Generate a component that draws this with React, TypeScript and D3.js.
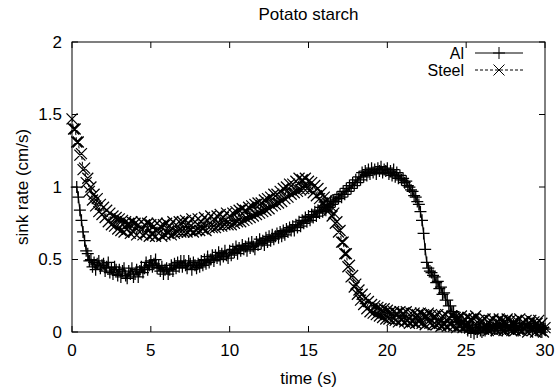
import * as d3 from "d3"

const title = "Potato starch"
const xLabel = "time (s)"
const yLabel = "sink rate (cm/s)"
const xTicks = [0, 5, 10, 15, 20, 25, 30]
const yTicks = [0, 0.5, 1, 1.5, 2]
const seriesNames = ["Al", "Steel"]

// sampling of the recorded runs (s)
const frameStep = 0.1
const alStart = 0.3
const steelStart = 0

// Al sphere, sink rate per frame from t = 0.3 s
const alRate = [
  1.0, 0.93, 0.84, 0.77, 0.69, 0.63, 0.56,
  0.54, 0.49, 0.5, 0.45, 0.48, 0.43, 0.47, 0.49, 0.44, 0.46,
  0.47, 0.42, 0.45, 0.48, 0.41, 0.44, 0.4, 0.45, 0.43, 0.39,
  0.43, 0.38, 0.42, 0.44, 0.39, 0.37, 0.42, 0.4, 0.44, 0.38,
  0.4, 0.43, 0.38, 0.42, 0.45, 0.41, 0.44, 0.48, 0.43, 0.46,
  0.49, 0.45, 0.47, 0.5, 0.44, 0.46, 0.42, 0.45, 0.4, 0.43,
  0.44, 0.4, 0.43, 0.46, 0.42, 0.47, 0.44, 0.48, 0.45, 0.49,
  0.45, 0.49, 0.46, 0.44, 0.49, 0.47, 0.43, 0.48, 0.46, 0.44,
  0.47, 0.45, 0.49, 0.46, 0.5, 0.47, 0.52, 0.48, 0.5, 0.53,
  0.49, 0.53, 0.51, 0.55, 0.5, 0.54, 0.52, 0.56, 0.53, 0.51,
  0.56, 0.53, 0.57, 0.55, 0.59, 0.54, 0.58, 0.56, 0.6, 0.57,
  0.59, 0.56, 0.61, 0.58, 0.62, 0.59, 0.57, 0.62, 0.6, 0.64,
  0.61, 0.63, 0.6, 0.65, 0.62, 0.66, 0.63, 0.67, 0.64, 0.66,
  0.68, 0.65, 0.69, 0.66, 0.7, 0.67, 0.71, 0.69, 0.72, 0.7,
  0.73, 0.7, 0.74, 0.72, 0.76, 0.73, 0.77, 0.75, 0.79, 0.76,
  0.8, 0.77, 0.81, 0.79, 0.83, 0.8, 0.84, 0.82, 0.86, 0.83,
  0.87, 0.84, 0.88, 0.86, 0.9, 0.88, 0.91, 0.9, 0.93, 0.92,
  0.95, 0.93, 0.97, 0.95, 0.99, 0.97, 1.01, 0.99, 1.03, 1.01,
  1.05, 1.03, 1.07, 1.05, 1.1, 1.07, 1.11, 1.08, 1.12, 1.09,
  1.13, 1.1, 1.12, 1.09, 1.13, 1.11, 1.14, 1.1, 1.12, 1.11,
  1.13, 1.09, 1.11, 1.08, 1.12, 1.07, 1.1, 1.06, 1.08, 1.05,
  1.06, 1.03, 1.04, 1.01, 1.0, 0.98, 0.97, 0.94, 0.93, 0.9,
  0.88, 0.83, 0.77, 0.68, 0.57, 0.48, 0.44, 0.42, 0.41, 0.39,
  0.38, 0.34, 0.35, 0.3, 0.31, 0.26, 0.27, 0.22, 0.22, 0.18,
  0.18, 0.14, 0.14, 0.1, 0.11, 0.07, 0.08, 0.05, 0.07, 0.03,
  0.05, 0.01, 0.04, 0.0, 0.03, -0.01, 0.02, 0.0, 0.04, 0.01,
  0.0, 0.03, 0.01, 0.04, 0.02, 0.05, 0.01, 0.04, 0.02, 0.05,
  0.02, 0.06, 0.03, 0.01, 0.05, 0.02, 0.04, 0.01, 0.05, 0.03,
  0.05, 0.02, 0.04, 0.01, 0.06, 0.03, 0.02, 0.05, 0.03, 0.06,
  0.02, 0.04, 0.01, 0.05, 0.03, 0.01, 0.04, 0.02, 0.0, 0.03,
  0.02,
]

// Steel sphere, sink rate per frame from t = 0 s
const steelRate = [
  1.47, 1.4, 1.4, 1.31, 1.31, 1.22, 1.23, 1.12, 1.13, 1.03,
  1.06, 0.97, 1.0, 0.91, 0.95, 0.87, 0.92, 0.83, 0.88, 0.81,
  0.86, 0.79, 0.84, 0.76, 0.82, 0.74, 0.8, 0.73, 0.79, 0.71,
  0.78, 0.7, 0.77, 0.69, 0.76, 0.71, 0.75, 0.68, 0.76, 0.69,
  0.75, 0.67, 0.74, 0.69, 0.76, 0.67, 0.74, 0.68, 0.75, 0.66,
  0.74, 0.67, 0.73, 0.66, 0.75, 0.68, 0.73, 0.66, 0.74, 0.67,
  0.75, 0.68, 0.73, 0.67, 0.76, 0.68, 0.74, 0.69, 0.76, 0.69,
  0.76, 0.69, 0.77, 0.69, 0.75, 0.7, 0.78, 0.69, 0.76, 0.7,
  0.78, 0.7, 0.76, 0.71, 0.79, 0.7, 0.77, 0.72, 0.8, 0.72,
  0.78, 0.72, 0.8, 0.73, 0.81, 0.73, 0.79, 0.74, 0.82, 0.74,
  0.8, 0.74, 0.82, 0.75, 0.83, 0.76, 0.84, 0.76, 0.85, 0.77,
  0.84, 0.78, 0.86, 0.79, 0.87, 0.8, 0.88, 0.81, 0.89, 0.82,
  0.89, 0.83, 0.91, 0.84, 0.92, 0.85, 0.93, 0.87, 0.95, 0.88,
  0.95, 0.89, 0.97, 0.9, 0.99, 0.92, 1.0, 0.93, 1.02, 0.95,
  1.02, 0.96, 1.04, 0.97, 1.06, 0.98, 1.05, 0.99, 1.06, 0.99,
  1.04, 0.98, 1.03, 0.96, 1.01, 0.94, 0.99, 0.92, 0.96, 0.89,
  0.93, 0.86, 0.91, 0.84, 0.87, 0.8, 0.82, 0.75, 0.76, 0.69,
  0.7, 0.62, 0.62, 0.54, 0.54, 0.45, 0.46, 0.38, 0.39, 0.31,
  0.33, 0.26, 0.29, 0.22, 0.26, 0.19, 0.23, 0.16, 0.21, 0.14,
  0.19, 0.13, 0.18, 0.12, 0.17, 0.11, 0.16, 0.1, 0.16, 0.09,
  0.15, 0.09, 0.14, 0.08, 0.14, 0.08, 0.13, 0.07, 0.14, 0.08,
  0.13, 0.07, 0.14, 0.08, 0.06, 0.13, 0.07, 0.13, 0.06, 0.12,
  0.07, 0.13, 0.06, 0.12, 0.05, 0.11, 0.13, 0.06, 0.12, 0.05,
  0.11, 0.05, 0.12, 0.06, 0.04, 0.11, 0.05, 0.12, 0.04, 0.1,
  0.05, 0.11, 0.04, 0.1, 0.03, 0.1, 0.04, 0.11, 0.03, 0.09,
  0.04, 0.1, 0.03, 0.09, 0.02, 0.09, 0.11, 0.03, 0.08, 0.02,
  0.08, 0.02, 0.09, 0.03, 0.01, 0.08, 0.02, 0.09, 0.03, 0.01,
  0.07, 0.09, 0.02, 0.08, 0.01, 0.07, 0.09, 0.02, 0.08, 0.01,
  0.07, 0.01, 0.08, 0.02, 0.09, 0.01, 0.07, 0.02, 0.08, 0.0,
  0.06, 0.08, 0.01, 0.07, 0.0, 0.06, 0.08, 0.01, 0.06, 0.0,
  0.03,
]

const width = 558
const height = 390
const margin = { top: 42, right: 13, bottom: 58, left: 72 }
const font = "'Liberation Sans', Arial, sans-serif"
const fontSize = 17
const tickLen = 6

export default function App() {
  const x = d3.scaleLinear().domain([0, 30]).range([margin.left, width - margin.right])
  const y = d3.scaleLinear().domain([0, 2]).range([height - margin.bottom, margin.top])

  const al: [number, number][] = alRate.map((v, i) => [alStart + i * frameStep, v])
  const steel: [number, number][] = steelRate.map((v, i) => [steelStart + i * frameStep, v])

  const line = d3
    .line<[number, number]>()
    .x((d) => x(d[0]))
    .y((d) => y(d[1]))

  // gnuplot style point glyphs
  const plus = (px: number, py: number, r = 6) => `M${px - r},${py}h${2 * r}M${px},${py - r}v${2 * r}`
  const cross = (px: number, py: number, r = 5.5) =>
    `M${px - r},${py - r}l${2 * r},${2 * r}M${px - r},${py + r}l${2 * r},${-2 * r}`

  const alMarks = al.map((d) => plus(x(d[0]), y(d[1]))).join("")
  const steelMarks = steel.map((d) => cross(x(d[0]), y(d[1]))).join("")

  const [x0, x1] = x.range()
  const [y0, y1] = y.range()

  // key
  const legTextX = 464
  const legLine = [475, 523]
  const legRows = [53, 70]
  const legMid = (legLine[0] + legLine[1]) / 2

  return (
    <svg
      width={width}
      height={height}
      style={{ position: "absolute", left: 0, top: 0, background: "#fff" }}
      fontFamily={font}
      fontSize={fontSize}
    >
      <rect width={width} height={height} fill="#fff" />
      <text x={(x0 + x1) / 2} y={20} textAnchor="middle">
        {title}
      </text>

      {/* data */}
      <path d={line(al) ?? ""} fill="none" stroke="#000" strokeWidth={1.2} />
      <path d={alMarks} fill="none" stroke="#000" strokeWidth={1.25} />
      <path d={line(steel) ?? ""} fill="none" stroke="#000" strokeWidth={1} strokeDasharray="3,2" />
      <path d={steelMarks} fill="none" stroke="#000" strokeWidth={1.25} />

      {/* border */}
      <rect x={x0} y={y1} width={x1 - x0} height={y0 - y1} fill="none" stroke="#000" strokeWidth={1} />

      {/* ticks, mirrored on all sides */}
      {xTicks.map((t) => (
        <g key={"x" + t}>
          <line x1={x(t)} x2={x(t)} y1={y0} y2={y0 - tickLen} stroke="#000" />
          <line x1={x(t)} x2={x(t)} y1={y1} y2={y1 + tickLen} stroke="#000" />
          <text x={x(t)} y={y0 + 24} textAnchor="middle">
            {t}
          </text>
        </g>
      ))}
      {yTicks.map((t) => (
        <g key={"y" + t}>
          <line x1={x0} x2={x0 + tickLen} y1={y(t)} y2={y(t)} stroke="#000" />
          <line x1={x1} x2={x1 - tickLen} y1={y(t)} y2={y(t)} stroke="#000" />
          <text x={x0 - 10} y={y(t)} dy="0.35em" textAnchor="end">
            {t}
          </text>
        </g>
      ))}

      <text x={(x0 + x1) / 2} y={384} textAnchor="middle">
        {xLabel}
      </text>
      <text transform={`translate(22,${(y0 + y1) / 2}) rotate(-90)`} textAnchor="middle" dy="0.35em">
        {yLabel}
      </text>

      {/* key */}
      {seriesNames.map((name, i) => (
        <g key={name}>
          <text x={legTextX} y={legRows[i]} dy="0.35em" textAnchor="end" fontSize={16}>
            {name}
          </text>
          <line
            x1={legLine[0]}
            x2={legLine[1]}
            y1={legRows[i]}
            y2={legRows[i]}
            stroke="#000"
            strokeDasharray={i === 1 ? "3,2" : undefined}
          />
          <path d={i === 0 ? plus(legMid, legRows[i]) : cross(legMid, legRows[i])} fill="none" stroke="#000" />
        </g>
      ))}
    </svg>
  )
}
